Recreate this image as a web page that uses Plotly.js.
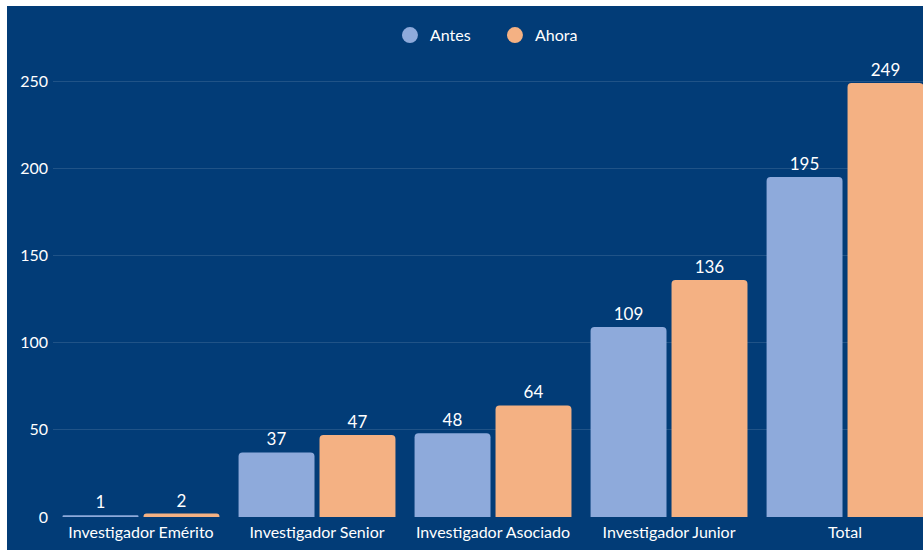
<!DOCTYPE html>
<html>
<head>
<meta charset="utf-8">
<script src="https://cdn.plot.ly/plotly-3.0.1.min.js"></script>
<style>
  html, body { margin: 0; padding: 0; background: #ffffff; width: 923px; height: 550px; overflow: hidden; }
  #chart { position: absolute; left: 7px; top: 6px; width: 916px; height: 544px; }
</style>
</head>
<body>
<div id="chart"></div>
<script>
const categories = ["Investigador Emérito", "Investigador Senior", "Investigador Asociado", "Investigador Junior", "Total"];
const antes = [1, 37, 48, 109, 195];
const ahora = [2, 47, 64, 136, 249];
const seriesNames = ["Antes", "Ahora"];
const yTicks = [0, 50, 100, 150, 200, 250];

const NAVY = "#023c77";
const C_ANTES = "#8eaadb";
const C_AHORA = "#f4b183";
const FONT = "Lato, 'Open Sans', sans-serif";

const barCommon = {
  type: "bar",
  x: categories,
  textposition: "outside",
  cliponaxis: false,
  textfont: { color: "#ffffff", size: 17, family: FONT },
  showlegend: false,
  hoverinfo: "x+y+name"
};

const traces = [
  Object.assign({}, barCommon, { name: seriesNames[0], y: antes, text: antes.map(String), marker: { color: C_ANTES } }),
  Object.assign({}, barCommon, { name: seriesNames[1], y: ahora, text: ahora.map(String), marker: { color: C_AHORA } }),
  { type: "scatter", mode: "markers", x: [null], y: [null], name: seriesNames[0], marker: { color: C_ANTES, size: 18, symbol: "circle" }, showlegend: true },
  { type: "scatter", mode: "markers", x: [null], y: [null], name: seriesNames[1], marker: { color: C_AHORA, size: 18, symbol: "circle" }, showlegend: true }
];

const layout = {
  width: 916,
  height: 544,
  paper_bgcolor: NAVY,
  plot_bgcolor: NAVY,
  margin: { l: 46, r: 0, t: 49, b: 33 },
  font: { family: FONT, color: "#ffffff", size: 16 },
  barmode: "group",
  bargap: 0.08,
  bargroupgap: 0.062,
  barcornerradius: 4,
  showlegend: true,
  legend: {
    orientation: "h",
    x: 0.508, xanchor: "center",
    y: 1.043, yanchor: "middle",
    font: { color: "#ffffff", size: 16, family: FONT },
    bgcolor: "rgba(0,0,0,0)",
    itemwidth: 30,
    entrywidth: 60,
    entrywidthmode: "pixels"
  },
  xaxis: {
    type: "category",
    range: [-0.5, 4.443],
    showgrid: false,
    zeroline: false,
    showline: false,
    ticks: "",
    ticklabelstandoff: 4,
    tickfont: { color: "#ffffff", size: 16, family: FONT },
    fixedrange: true
  },
  yaxis: {
    range: [0, 265],
    tickvals: yTicks,
    ticktext: yTicks.map(String),
    showgrid: true,
    gridcolor: "rgba(255,255,255,0.12)",
    gridwidth: 1,
    zeroline: false,
    showline: false,
    ticks: "",
    ticklabelstandoff: 4,
    tickfont: { color: "#ffffff", size: 16, family: FONT },
    fixedrange: true
  }
};

Plotly.newPlot("chart", traces, layout, { displayModeBar: false, staticPlot: true });
</script>
</body>
</html>
